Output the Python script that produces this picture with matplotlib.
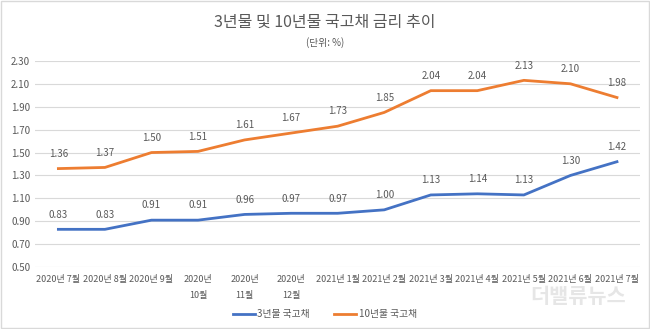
import matplotlib.pyplot as plt
from matplotlib.patches import Rectangle

plt.rcParams['font.family'] = ['Noto Sans CJK KR', 'DejaVu Sans']

months = ['2020년 7월', '2020년 8월', '2020년 9월', '2020년\n10월', '2020년\n11월',
          '2020년\n12월', '2021년 1월', '2021년 2월', '2021년 3월', '2021년 4월',
          '2021년 5월', '2021년 6월', '2021년 7월']
bond_3y = [0.83, 0.83, 0.91, 0.91, 0.96, 0.97, 0.97, 1.00, 1.13, 1.14, 1.13, 1.30, 1.42]
bond_10y = [1.36, 1.37, 1.50, 1.51, 1.61, 1.67, 1.73, 1.85, 2.04, 2.04, 2.13, 2.10, 1.98]
yticks = [0.50, 0.70, 0.90, 1.10, 1.30, 1.50, 1.70, 1.90, 2.10, 2.30]

text_color = '#595959'
blue = '#4472C4'
orange = '#ED7D31'

fig = plt.figure(figsize=(6.5, 3.29), dpi=100)
ax = fig.add_axes([0.054, 0.188, 0.931, 0.627])

x = list(range(len(months)))
ax.plot(x, bond_3y, color=blue, lw=2, label='3년물 국고채')
ax.plot(x, bond_10y, color=orange, lw=2, label='10년물 국고채')

for xi, v in zip(x, bond_3y):
    ax.annotate(f'{v:.2f}', (xi, v), xytext=(0, 7), textcoords='offset points',
                ha='center', va='bottom', fontsize=7, color=text_color)
for xi, v in zip(x, bond_10y):
    ax.annotate(f'{v:.2f}', (xi, v), xytext=(0, 7), textcoords='offset points',
                ha='center', va='bottom', fontsize=7, color=text_color)

ax.set_xlim(-0.5, len(months) - 0.5)
ax.set_ylim(0.5, 2.3)
ax.set_yticks(yticks)
ax.set_yticklabels([f'{t:.2f}' for t in yticks])
ax.set_xticks(x)
ax.set_xticklabels(months, va='top', linespacing=1.9)
ax.tick_params(axis='both', length=0, labelsize=7, colors=text_color)
ax.tick_params(axis='x', pad=6, labelsize=6.5)
ax.grid(axis='y', color='#D9D9D9', lw=0.8)
ax.set_axisbelow(True)
for s in ax.spines.values():
    s.set_visible(False)

fig.text(0.5, 0.933, '3년물 및 10년물 국고채 금리 추이', ha='center', va='center',
         fontsize=11.5, color=text_color)
fig.text(0.5, 0.872, '(단위: %)', ha='center', va='center', fontsize=7, color=text_color)

fig.legend(loc='center', bbox_to_anchor=(0.5, 0.045), ncol=2, frameon=False,
           fontsize=7, labelcolor=text_color, handlelength=2.2, handletextpad=0.3,
           columnspacing=2.5)

fig.text(0.89, 0.1, '더밸류뉴스', ha='center', va='center', fontsize=15,
         color='#E6E6E6', fontweight='bold', style='italic')

fig.patches.append(Rectangle((0.002, 0.003), 0.996, 0.994, transform=fig.transFigure,
                             fill=False, edgecolor='#D9D9D9', lw=1))

fig.savefig('out.png', dpi=100, facecolor='white')
